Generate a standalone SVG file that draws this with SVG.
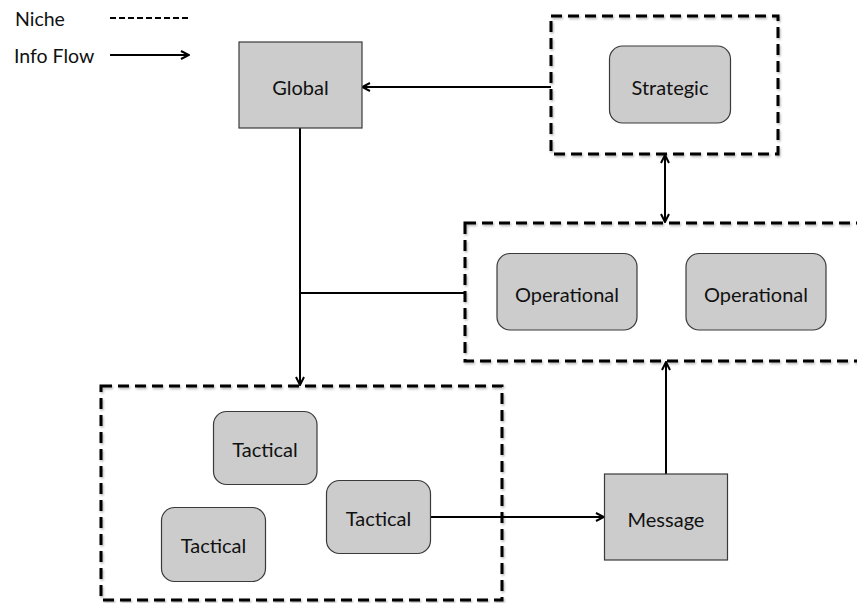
<svg xmlns="http://www.w3.org/2000/svg" width="857" height="603" viewBox="0 0 857 603">
<style>
  text { font-family: Lato, "Open Sans", "Liberation Sans", sans-serif; font-size: 20px; fill: #111; text-anchor: middle; dominant-baseline: central; }
  .legend { text-anchor: start; font-size: 19.5px; }
  .box { fill: #cccccc; stroke: #3a3a3a; stroke-width: 1.2; }
  .niche { fill: none; stroke: #000; stroke-width: 3; stroke-dasharray: 11 6; }
  .conn { fill: none; stroke: #000; stroke-width: 2; }
</style>
<defs>
  <marker id="arr" viewBox="0 0 10 10" refX="9" refY="5" markerWidth="10" markerHeight="10" markerUnits="userSpaceOnUse" orient="auto-start-reverse">
    <path d="M1,1 L9,5 L1,9" fill="none" stroke="#000" stroke-width="2"/>
  </marker>
  <filter id="sh" x="-5%" y="-5%" width="110%" height="110%">
    <feDropShadow dx="1" dy="1.5" stdDeviation="1" flood-color="#000" flood-opacity="0.3"/>
  </filter>
</defs>

<g id="legend">
  <text class="legend" x="15" y="18">Niche</text>
  <line x1="110" y1="18" x2="190" y2="18" stroke="#000" stroke-width="2" stroke-dasharray="6 3"/>
  <text class="legend" x="14" y="55">Info Flow</text>
  <line x1="110" y1="55" x2="189" y2="55" class="conn" marker-end="url(#arr)"/>
</g>

<g id="niche-strategic">
  <rect class="niche" x="551" y="16" width="227" height="138" filter="url(#sh)"/>
</g>
<g id="niche-operational">
  <rect class="niche" x="465" y="223" width="420" height="138" filter="url(#sh)"/>
</g>
<g id="niche-tactical">
  <rect class="niche" x="101" y="386" width="401" height="214" filter="url(#sh)"/>
</g>

<g id="connectors">
  <line class="conn" x1="551" y1="87" x2="362" y2="87" marker-end="url(#arr)"/>
  <line class="conn" x1="665" y1="155" x2="665" y2="222" marker-start="url(#arr)" marker-end="url(#arr)"/>
  <line class="conn" x1="300" y1="128" x2="300" y2="385" marker-end="url(#arr)"/>
  <line class="conn" x1="300" y1="293" x2="465" y2="293"/>
  <line class="conn" x1="430" y1="517" x2="604" y2="517" marker-end="url(#arr)"/>
  <line class="conn" x1="666" y1="474" x2="666" y2="362" marker-end="url(#arr)"/>
</g>

<g id="global">
  <rect class="box" x="239" y="42" width="123" height="86"/>
  <text x="300.5" y="87">Global</text>
</g>
<g id="strategic">
  <rect class="box" x="609.5" y="46" width="121" height="77" rx="13"/>
  <text x="670" y="87">Strategic</text>
</g>
<g id="operational-1">
  <rect class="box" x="497" y="253.5" width="140" height="76.5" rx="13"/>
  <text x="567" y="294">Operational</text>
</g>
<g id="operational-2">
  <rect class="box" x="686" y="253.5" width="140" height="76.5" rx="13"/>
  <text x="756" y="294">Operational</text>
</g>
<g id="tactical-1">
  <rect class="box" x="213.5" y="411.5" width="103.5" height="73" rx="13"/>
  <text x="265" y="449">Tactical</text>
</g>
<g id="tactical-2">
  <rect class="box" x="161.5" y="507.5" width="104" height="74" rx="13"/>
  <text x="213.5" y="545">Tactical</text>
</g>
<g id="tactical-3">
  <rect class="box" x="326.5" y="480.5" width="104" height="73" rx="13"/>
  <text x="378.5" y="518">Tactical</text>
</g>
<g id="message">
  <rect class="box" x="604.5" y="474" width="123" height="86"/>
  <text x="666" y="519">Message</text>
</g>
</svg>
